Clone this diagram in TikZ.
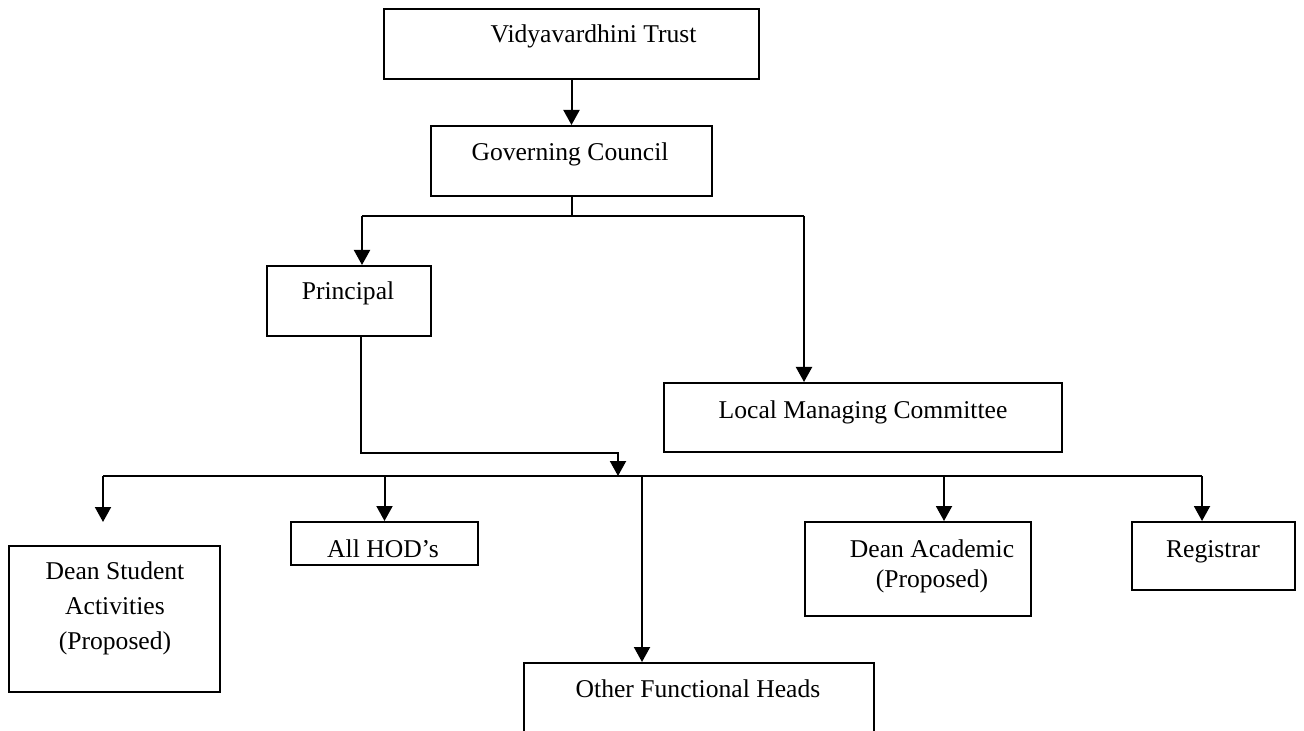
\documentclass[tikz,border=0pt]{standalone}
\usepackage{fontspec}
\setmainfont{Liberation Serif}
\usetikzlibrary{arrows.meta}
\begin{document}
\begin{tikzpicture}[x=0.5pt,y=-0.5pt,
  box/.style={draw,line width=1pt,rectangle,inner sep=0pt},
  lbl/.style={anchor=base,inner sep=0pt,font=\fontsize{12.8}{15}\selectfont,align=center},
  arr/.style={line width=1pt,-{Triangle[length=7.5pt,width=8pt]}},
  ln/.style={line width=1pt}]
\useasboundingbox[fill=white] (0,0) rectangle (1304,731);

% boxes
\node[box,minimum width=187.5pt,minimum height=35pt] (trust) at (571.5,44) {};
\node[box,minimum width=140.5pt,minimum height=35pt] (gc) at (571.5,161) {};
\node[box,minimum width=82pt,minimum height=35pt] (principal) at (349,301) {};
\node[box,minimum width=199pt,minimum height=34.5pt] (lmc) at (863,417.5) {};
\node[box,minimum width=105.5pt,minimum height=73pt] (dsa) at (114.5,619) {};
\node[box,minimum width=93.5pt,minimum height=21.5pt] (hod) at (384.5,543.5) {};
\node[box,minimum width=113pt,minimum height=47pt] (dac) at (918,569) {};
\node[box,minimum width=81.5pt,minimum height=34pt] (reg) at (1213.5,556) {};
\node[box,minimum width=175pt,minimum height=43.5pt] (ofh) at (699,706.5) {};

% texts
\node[lbl] (trust-t) at (593.5,43) {Vidyavardhini Trust};
\node[lbl] (gc-t) at (570,161) {Governing Council};
\node[lbl] (principal-t) at (348,300) {Principal};
\node[lbl] (lmc-t) at (863,418) {Local Managing Committee};
\node[lbl,font=\fontsize{12.8}{17.5}\selectfont] (dsa-t) at (115,649) {Dean Student\\Activities\\(Proposed)};
\node[lbl] (hod-t) at (383,557) {All HOD’s};
\node[lbl] (dac-t) at (932,587) {Dean Academic\\(Proposed)};
\node[lbl] (reg-t) at (1213,557) {Registrar};
\node[lbl] (ofh-t) at (698,697) {Other Functional Heads};

% connectors
\coordinate (j1) at (571.5,216);
\coordinate (jl) at (362,216);
\coordinate (jr) at (804,216);
\draw[arr] (trust) -- (gc);
\draw[ln] (gc) -- (j1);
\draw[ln] (jl) -- (jr);
\draw[arr] (jl) -- (jl |- principal.north);
\draw[arr] (jr) -- (jr |- lmc.north);

\coordinate (p1) at (361,453);
\coordinate (p2) at (618,453);
\coordinate (bm) at (618,476);
\draw[arr] (p1 |- principal.south) -- (p1) -- (p2) -- (bm);

\coordinate (bl) at (103,476);
\coordinate (br) at (1202,476);
\coordinate (od) at (642,476);
\coordinate (ad) at (944,476);
\coordinate (dsaend) at (103,522);
\draw[ln] (bl) -- (br);
\draw[arr] (bl) -- (dsaend);
\draw[arr] (hod.north |- bl) -- (hod.north);
\draw[arr] (od) -- (od |- ofh.north);
\draw[arr] (ad) -- (ad |- dac.north);
\draw[arr] (br) -- (br |- reg.north);
\end{tikzpicture}
\end{document}
